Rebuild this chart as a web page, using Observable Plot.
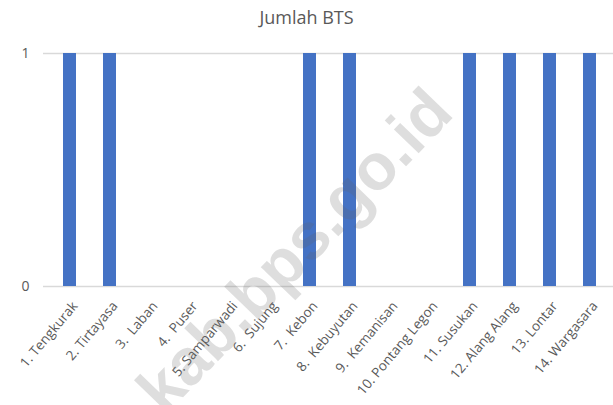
<!DOCTYPE html>
<html>
<head>
<meta charset="utf-8">
<script src="https://cdn.jsdelivr.net/npm/d3@7"></script>
<script src="https://cdn.jsdelivr.net/npm/@observablehq/plot@0.6"></script>
<style>
  html, body { margin: 0; padding: 0; background: #fff; overflow: hidden; }
  #wrap { position: relative; width: 613px; height: 405px; overflow: hidden; }
  #title { height: 32px; line-height: 34px; text-align: center; font-family: "Open Sans", sans-serif; font-size: 18px; color: #595959; }
  #chart svg text { white-space: pre; }
  #wm { position: absolute; left: 0; top: 0; font-family: "Liberation Sans", Arial, sans-serif; font-weight: bold; font-size: 65px; line-height: 1; color: rgba(100,100,100,0.21); white-space: nowrap; pointer-events: none; }
</style>
</head>
<body>
<div id="wrap">
  <div id="title">Jumlah BTS</div>
  <div id="chart"></div>
  <div id="wm">kab.bps.go.id</div>
</div>
<script>
const categories = [
  "1. Tengkurak", "2. Tirtayasa", "3.  Laban", "4.  Puser", "5. Samparwadi",
  "6.  Sujung", "7.  Kebon", "8.  Kebuyutan", "9.  Kemanisan", "10. Pontang Legon",
  "11. Susukan", "12. Alang Alang", "13. Lontar", "14. Wargasara"
];
const values = [1, 1, 0, 0, 0, 0, 1, 1, 0, 0, 1, 1, 1, 1];
const yTicks = [0, 1];

const data = categories.map((c, i) => ({ name: c, value: values[i] }));

const chart = Plot.plot({
  width: 613,
  height: 373,
  marginLeft: 43,
  marginRight: -3,
  marginTop: 21,
  marginBottom: 119,
  style: { fontFamily: "'Open Sans', sans-serif", fontSize: "13px", color: "#595959", background: "transparent" },
  x: { domain: categories, paddingInner: 0.68, paddingOuter: 0.34, label: null },
  y: { domain: [0, 1], label: null },
  marks: [
    Plot.ruleY(yTicks, { stroke: "#d9d9d9", strokeWidth: 1.3 }),
    Plot.barY(data, { x: "name", y: "value", fill: "#4472c4" }),
    Plot.axisY({ ticks: yTicks, tickSize: 0, tickPadding: 14, tickFormat: d3.format("d"), fontSize: 14, label: null }),
    Plot.axisX({ tickSize: 0, tickRotate: -50, tickPadding: 17, dx: 5, fontSize: 13.5, label: null })
  ]
});
document.getElementById("chart").appendChild(chart);

const wm = document.getElementById("wm");
wm.style.transform = "translate(294px, 250px) rotate(-46deg) translate(-50%, -50%)";
wm.style.transformOrigin = "0 0";
</script>
</body>
</html>
